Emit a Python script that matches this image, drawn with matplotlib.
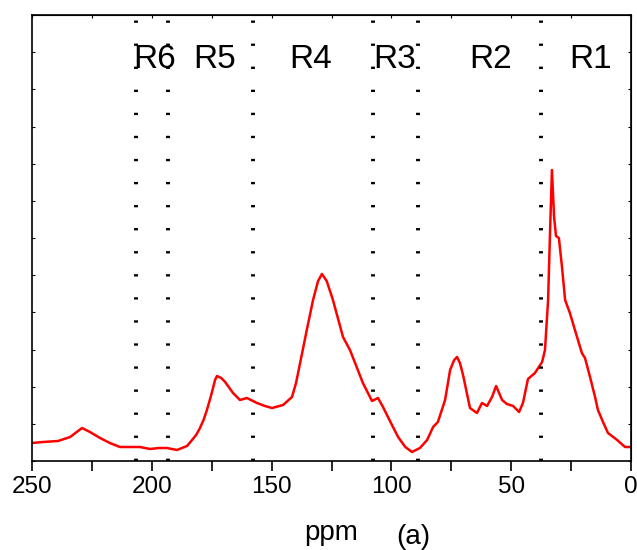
import matplotlib
matplotlib.use("Agg")
import matplotlib.pyplot as plt
from matplotlib.ticker import MultipleLocator, NullFormatter

# spectre (ppm, intensite arbitraire)
ppm = [250.0, 245.4, 239.1, 234.1, 229.1, 225.8, 221.6, 217.5, 213.3, 209.0,
       204.9, 200.8, 197.0, 193.7, 189.5, 185.3, 183.2, 181.5, 179.9, 178.4,
       177.0, 175.2, 173.6, 172.8, 171.0, 169.4, 166.1, 163.2, 160.3, 156.1,
       152.8, 149.8, 145.2, 141.5, 139.8, 138.1, 135.4, 132.7, 130.6, 129.0,
       127.0, 124.4, 120.2, 117.3, 114.5, 111.9, 108.1, 105.6, 103.5, 100.4,
       97.2, 94.2, 91.4, 88.1, 85.1, 82.6, 80.6, 77.6, 75.5, 73.8,
       72.6, 71.4, 70.1, 67.2, 64.3, 62.2, 60.1, 58.0, 56.3, 53.8,
       51.8, 49.2, 46.7, 45.1, 43.0, 40.1, 37.1, 35.9, 34.6, 33.8,
       33.0, 32.1, 31.3, 30.1, 28.8, 27.5, 25.5, 23.4, 20.5, 19.2,
       17.1, 15.0, 13.8, 11.5, 9.6, 5.8, 2.5, 0.0]
intensite = [18, 19, 20, 24, 33, 29, 23, 18, 14, 14,
             14, 12, 13, 13, 11, 15, 21, 26, 33, 41,
             51, 66, 81, 85, 83, 79, 68, 61, 63, 58,
             55, 53, 56, 64, 78, 98, 130, 161, 180, 187,
             180, 161, 124, 111, 94, 78, 60, 63, 54, 39,
             24, 14, 9, 13, 21, 34, 39, 61, 91, 101,
             104, 98, 86, 53, 48, 58, 55, 64, 75, 61,
             57, 55, 49, 58, 82, 88, 99, 111, 161, 228,
             291, 244, 225, 223, 194, 161, 148, 131, 108, 103,
             84, 64, 51, 38, 28, 21, 14, 14]

# limites des regions
limites = [206.6, 193.2, 157.8, 107.7, 88.9, 37.6]
regions = ["R6", "R5", "R4", "R3", "R2", "R1"]
pos_regions = [199.0, 173.6, 133.6, 98.5, 58.8, 16.7]

plt.rcParams['font.family'] = ['Liberation Sans', 'DejaVu Sans']

fig = plt.figure(figsize=(6.37, 5.5), dpi=100)
ax = fig.add_axes([32 / 637, 89 / 550, 599 / 637, 446 / 550])

ax.plot(ppm, intensite, color='red', lw=1.8)

# pointilles : un point tous les ~23 px
for x in limites:
    ax.axvline(x, color='black', lw=2.8, dashes=(0.6, 5.33), dash_capstyle='butt')

for nom, x in zip(regions, pos_regions):
    ax.text(x, 401, nom, fontsize=24, ha='center', va='center')

ax.set_xlim(250, 0)
ax.set_ylim(0, 446)
ax.xaxis.set_major_locator(MultipleLocator(50))
ax.xaxis.set_minor_locator(MultipleLocator(25))
ax.yaxis.set_major_locator(MultipleLocator(446 / 12))
ax.yaxis.set_major_formatter(NullFormatter())
ax.tick_params(axis='x', which='both', direction='out', length=7, width=1.2,
               labelsize=17.5, pad=4)
ax.tick_params(axis='y', which='both', direction='in', length=2.5, width=0.8)
for s in ax.spines.values():
    s.set_linewidth(1.2)

# graduations du haut et de droite, vers l'interieur
haut = ax.secondary_xaxis('top')
haut.xaxis.set_major_locator(MultipleLocator(25))
haut.xaxis.set_major_formatter(NullFormatter())
haut.tick_params(direction='in', length=2.5, width=0.8)
droite = ax.secondary_yaxis('right')
droite.yaxis.set_major_locator(MultipleLocator(446 / 12))
droite.yaxis.set_major_formatter(NullFormatter())
droite.tick_params(direction='in', length=2.5, width=0.8)

ax.set_xlabel("ppm", fontsize=20, labelpad=16)
fig.text(413 / 637, 1 - 537 / 550, "(a)", fontsize=20, ha='center', va='center')

fig.savefig("out.png", dpi=100)
